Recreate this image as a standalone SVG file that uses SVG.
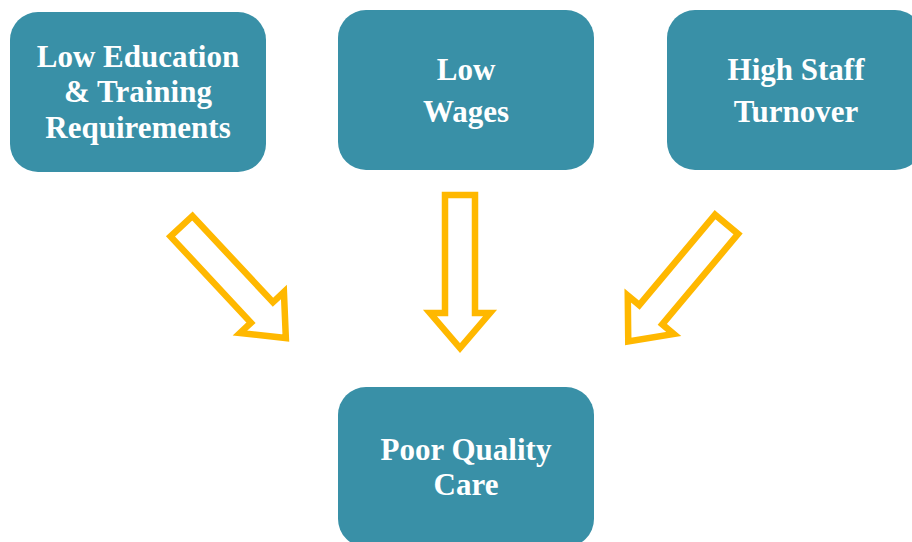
<svg xmlns="http://www.w3.org/2000/svg" width="912" height="542" viewBox="0 0 912 542">
<style>
.box{fill:#3990A7}
.lbl{font-family:"Liberation Serif","Times New Roman",serif;font-weight:bold;font-size:31px;fill:#ffffff;text-anchor:middle}
.arr{fill:#ffffff;stroke:#FFB800;stroke-width:6.5;stroke-linejoin:miter}
</style>
<defs>
<path id="arrowShape" d="M-15,0 H15 V118 H30 L0,153 L-30,118 H-15 Z"/>
</defs>
<rect width="912" height="542" fill="#ffffff"/>
<g id="connectors">
<use href="#arrowShape" class="arr" transform="translate(181.5,226.2) rotate(-43)"/>
<use href="#arrowShape" class="arr" transform="translate(460,195)"/>
<use href="#arrowShape" class="arr" transform="translate(726.6,224.3) rotate(40)"/>
</g>
<g id="node-education">
<rect class="box" x="10" y="12" width="256" height="160" rx="28"/>
<text class="lbl" x="138" y="67">Low Education</text>
<text class="lbl" x="138" y="102">&amp; Training</text>
<text class="lbl" x="138" y="138">Requirements</text>
</g>
<g id="node-wages">
<rect class="box" x="338" y="10" width="256" height="160" rx="28"/>
<text class="lbl" x="466" y="80">Low</text>
<text class="lbl" x="466" y="122">Wages</text>
</g>
<g id="node-turnover">
<rect class="box" x="667" y="10" width="256" height="160" rx="28"/>
<text class="lbl" x="796" y="80">High Staff</text>
<text class="lbl" x="796" y="122">Turnover</text>
</g>
<g id="node-care">
<rect class="box" x="338" y="387" width="256" height="160" rx="28"/>
<text class="lbl" x="466" y="460">Poor Quality</text>
<text class="lbl" x="466" y="495">Care</text>
</g>
</svg>
